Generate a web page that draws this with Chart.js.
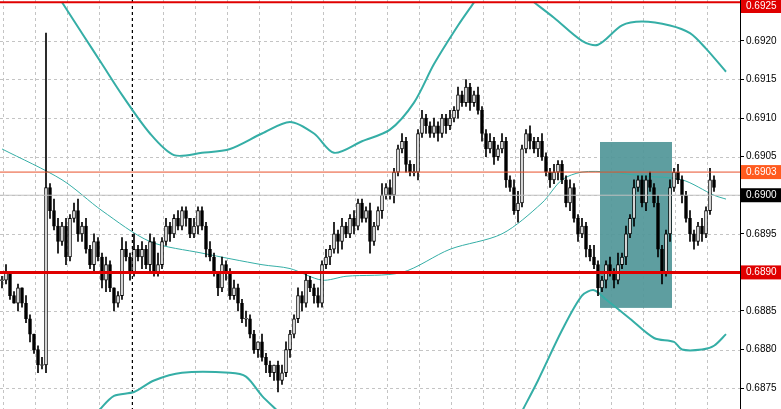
<!DOCTYPE html>
<html><head><meta charset="utf-8">
<script src="https://cdn.jsdelivr.net/npm/chart.js@4/dist/chart.umd.min.js"></script>
<style>body{margin:0;background:#fff}#wrap{width:781px;height:409px}</style>
</head><body><div id="wrap"><canvas id="c" width="781" height="409"></canvas></div>
<script>
/* ---- data ---- */
const OPEN0 = 0.6889;
const CLOSES = [
 0.6889,0.6890,0.6887,0.6886,0.6888,0.6886,0.6884,0.6882,0.6880,0.6878,0.6878,
 0.6901,
 0.6898,0.6896,0.6894,0.6896,0.6892,0.6897,0.6898,0.6895,0.6896,0.6893,0.6891,0.6894,0.6892,
 0.6889,0.6891,0.6888,0.6886,0.6887,0.6893,
 0.6892,0.6890,0.6893,0.6892,0.6893,0.6891,0.6894,0.6890,0.6891,0.6894,
 0.6896,0.6895,0.6897,0.6896,0.6898,0.6897,0.6895,0.6896,0.6898,0.6896,
 0.6893,0.6892,0.6890,0.6888,0.6891,0.6890,0.6887,0.6888,0.6886,0.6884,
 0.6884,0.6882,0.6880,0.6881,0.6879,0.6878,0.6877,0.6878,0.6876,0.6877,
 0.6880,0.6882,0.6884,0.6887,0.6886,0.6889,0.6888,0.6887,0.6886,0.6891,
 0.6892,0.6893,0.6895,0.6894,0.6896,0.6895,0.6897,0.6896,0.6899,0.6897,
 0.6898,0.6894,0.6896,0.6898,0.6900,0.6901,0.6900,0.6903,0.6906,0.6907,
 0.6904,0.6903,0.6903,0.6908,0.6910,0.6909,0.6908,0.6909,0.6908,0.6910,
 0.6909,0.6910,0.6911,0.6913,0.6912,0.6914,0.6912,0.6913,0.6911,0.6908,
 0.6906,0.6907,0.6905,0.6906,0.6907,0.6902,0.6901,0.6898,0.6899,0.6906,
 0.6908,0.6907,0.6906,0.6907,0.6905,0.6903,0.6902,0.6903,0.6904,0.6902,
 0.6899,0.6901,0.6897,0.6895,0.6896,0.6893,0.6892,0.6891,0.6888,0.6889,
 0.6891,0.6890,0.6889,0.6891,0.6892,0.6895,0.6897,0.6901,0.6902,0.6899,
 0.6902,0.6901,0.6899,0.6893,0.6890,0.6895,0.6901,0.6903,0.6902,0.6900,
 0.6897,0.6895,0.6894,0.6896,0.6895,0.6898,0.6902,0.6901
];
// wick lengths beyond the body, in units of 0.00005
const WICK_UP = [
 1,2,0,1,1,0,2,1,0,1,2, 40,
 1,3,2,1,2,1,2,3,1,2,1,2,1, 1,2,1,0,1,3,
 2,1,4,1,2,1,2,1,3,1, 2,1,1,2,1,1,0,2,1,1,
 1,2,1,0,2,1,1,2,1,1, 2,1,1,0,2,1,1,0,1,2,
 2,1,1,2,1,2,1,1,2,1, 2,1,3,1,2,1,1,2,1,1,
 1,2,1,1,3,1,2,1,1,2, 1,1,2,1,2,1,1,2,1,1,
 1,2,1,2,1,2,1,1,2,1, 1,2,1,1,2,1,1,2,3,1,
 1,2,1,1,2,1,1,2,1,1, 1,2,1,1,2,1,1,3,1,1,
 1,2,1,3,1,2,1,2,1,1, 1,2,1,2,1,1,2,1,2,1,
 1,2,1,1,2,1,3,1
];
const WICK_DN = [
 2,1,1,0,2,1,1,2,1,2,1, 2,
 2,1,3,1,2,1,1,2,2,1,1,2,1, 2,3,1,2,1,1,
 1,2,1,1,3,1,2,1,1,1, 1,2,1,1,1,2,1,1,2,1,
 2,1,1,2,1,2,1,1,2,1, 2,1,1,2,1,2,1,2,3,1,
 1,2,1,1,2,1,1,2,1,1, 1,2,1,3,2,1,1,2,1,1,
 1,3,1,1,2,1,1,2,1,1, 2,1,1,2,1,2,1,1,2,1,
 2,1,1,2,1,1,2,1,1,2, 2,1,2,1,1,2,1,1,3,1,
 1,2,1,2,1,1,2,1,2,1, 1,2,1,2,1,2,1,1,2,1,
 2,1,2,1,1,2,1,2,1,1, 2,1,1,2,3,1,2,1,1,2,
 1,2,2,1,2,1,1,1
];
const UPPER_A_X = [15,20,25,30,37,43,50,57,65,72,78,83,90,97,103,108,114,118];
const UPPER_A_Y = [0.6925,0.6921,0.6917,0.6913,0.6908,0.69052,0.69055,0.6906,0.6908,0.69095,0.6908,0.69055,0.6907,0.69085,0.6912,0.6917,0.6922,0.6925];
const UPPER_B_X = [133,138,145,149,155,160,167,172,176,181];
const UPPER_B_Y = [0.6925,0.6923,0.6920,0.69195,0.6922,0.69225,0.6922,0.6921,0.6919,0.6916];
const LOWER_A_X = [24,28,33,38,45,57,61,65,69];
const LOWER_A_Y = [0.6872,0.6874,0.68745,0.6876,0.6877,0.6877,0.68765,0.6874,0.6872];
const LOWER_B_X = [130,134,140,145,148,151,157,163,168,170,175,178,181];
const LOWER_B_Y = [0.6872,0.6876,0.68825,0.6887,0.68877,0.68865,0.6884,0.68815,0.6881,0.6880,0.6880,0.68805,0.6882];
const MID_X = [0,15,25,37,50,65,72,80,86,100,112,125,135,140,145,152,160,170,178,181];
const MID_Y = [0.6906,0.6902,0.6898,0.6894,0.68925,0.6891,0.68905,0.6889,0.68895,0.6890,0.6893,0.6895,0.6899,0.6902,0.6903,0.6903,0.69025,0.6902,0.6900,0.68995];
const Y_TICKS = [0.6875,0.6880,0.6885,0.6890,0.6895,0.6900,0.6905,0.6910,0.6915,0.6920];
const LEVELS = [
  { v: 0.6925, color: '#e00000', width: 2, label: '0.6925', box: '#e00000' },
  { v: 0.6903, color: '#e8502a', width: 1, label: '0.6903', box: '#ff5a1e' },
  { v: 0.6900, color: '#c0c0c0', width: 1, label: '0.6900', box: '#000000' },
  { v: 0.6890, color: '#e00000', width: 3, label: '0.6890', box: '#e00000' },
];
const ZONE = { x0: 149.5, x1: 167.5, top: 0.69069, bottom: 0.68854 };
const CURSOR_X = 32.5;

const TEAL = '#35aea6';
const GRID = '#c4c4c4';
const FONT = '10px "Liberation Sans"';
const pts = (xs, ys) => xs.map((x, i) => ({ x, y: ys[i] }));

/* ---- candles ---- */
const bodies = [], wicks = [], bodyFill = [];
CLOSES.forEach((c, i) => {
  const o = i === 0 ? OPEN0 : CLOSES[i - 1];
  const hi = Math.max(o, c) + WICK_UP[i] * 0.00005;
  const lo = Math.min(o, c) - WICK_DN[i] * 0.00005;
  wicks.push({ x: i, y: [lo, hi] });
  bodies.push({ x: i, y: o === c ? [o - 0.000006, o + 0.000006] : [o, c] });
  bodyFill.push(c >= o ? '#ffffff' : '#000000');
});

const overlay = {
  id: 'overlay',
  beforeDatasetsDraw(chart) {
    const { ctx, chartArea, scales: { x, y } } = chart;
    ctx.save();
    // dashed grid
    ctx.strokeStyle = GRID; ctx.lineWidth = 1; ctx.setLineDash([3, 3]);
    x.ticks.forEach(t => {
      const px = Math.round(x.getPixelForValue(t.value)) + 0.5;
      ctx.beginPath(); ctx.moveTo(px, chartArea.top); ctx.lineTo(px, chartArea.bottom); ctx.stroke();
    });
    y.ticks.forEach(t => {
      const py = Math.round(y.getPixelForValue(t.value)) + 0.5;
      ctx.beginPath(); ctx.moveTo(chartArea.left, py); ctx.lineTo(chartArea.right, py); ctx.stroke();
    });
    ctx.setLineDash([]);
    ctx.fillStyle = 'rgba(80,150,152,0.92)';
    const px0 = x.getPixelForValue(ZONE.x0), px1 = x.getPixelForValue(ZONE.x1);
    const py0 = y.getPixelForValue(ZONE.top), py1 = y.getPixelForValue(ZONE.bottom);
    ctx.fillRect(px0, py0, px1 - px0, py1 - py0);
    const cx = Math.round(x.getPixelForValue(CURSOR_X)) + 0.5;
    ctx.strokeStyle = '#000'; ctx.setLineDash([3, 3]);
    ctx.beginPath(); ctx.moveTo(cx, 0); ctx.lineTo(cx, chartArea.bottom); ctx.stroke();
    ctx.restore();
  },
  afterDatasetsDraw(chart) {
    const { ctx, chartArea, scales: { y } } = chart;
    ctx.save();
    LEVELS.forEach(l => {
      const py = y.getPixelForValue(l.v);
      ctx.strokeStyle = l.color; ctx.lineWidth = l.width;
      ctx.beginPath(); ctx.moveTo(chartArea.left, py); ctx.lineTo(chartArea.right, py); ctx.stroke();
    });
    ctx.restore();
  },
  afterDraw(chart) {
    const { ctx, chartArea, scales: { y } } = chart;
    ctx.save();
    ctx.font = FONT; ctx.textBaseline = 'middle';
    LEVELS.forEach(l => {
      const py = Math.max(y.getPixelForValue(l.v), 6);
      ctx.fillStyle = l.box;
      ctx.fillRect(chartArea.right + 1, py - 7, 40, 14);
      ctx.fillStyle = '#fff';
      ctx.fillText(l.label, chartArea.right + 6, py);
    });
    ctx.restore();
  }
};

new Chart(document.getElementById('c'), {
  data: {
    datasets: [
      { type: 'line', data: pts(MID_X, MID_Y), borderColor: TEAL, borderWidth: 1, pointRadius: 0, tension: 0.3, order: 3 },
      { type: 'line', data: pts(UPPER_A_X, UPPER_A_Y), borderColor: TEAL, borderWidth: 2, pointRadius: 0, tension: 0.3, order: 3 },
      { type: 'line', data: pts(UPPER_B_X, UPPER_B_Y), borderColor: TEAL, borderWidth: 2, pointRadius: 0, tension: 0.3, order: 3 },
      { type: 'line', data: pts(LOWER_A_X, LOWER_A_Y), borderColor: TEAL, borderWidth: 2, pointRadius: 0, tension: 0.3, order: 3 },
      { type: 'line', data: pts(LOWER_B_X, LOWER_B_Y), borderColor: TEAL, borderWidth: 2, pointRadius: 0, tension: 0.3, order: 3 },
      { type: 'bar', data: wicks, backgroundColor: '#000', barThickness: 1, grouped: false, order: 2 },
      { type: 'bar', data: bodies, backgroundColor: bodyFill, borderColor: '#000', borderWidth: 1, borderSkipped: false, barThickness: 3, grouped: false, order: 1 },
    ]
  },
  options: {
    responsive: false, animation: false,
    layout: { padding: 0 },
    plugins: { legend: { display: false }, tooltip: { enabled: false } },
    scales: {
      x: {
        type: 'linear', min: -0.5, max: 184.5, offset: false,
        afterFit: s => { s.height = 0; s.paddingLeft = 0; s.paddingRight = 0; },
        afterBuildTicks: s => { const t = []; for (let v = 0.25; v < 184; v += 8) t.push({ value: v }); s.ticks = t; },
        ticks: { display: false },
        grid: { display: false },
        border: { display: false }
      },
      y: {
        position: 'right', min: 0.68723, max: 0.69253,
        afterFit: s => { s.width = 41; s.paddingTop = 0; s.paddingBottom = 0; },
        afterBuildTicks: s => { s.ticks = Y_TICKS.map(v => ({ value: v })); },
        ticks: { color: '#000', font: { family: 'Liberation Sans', size: 10 }, padding: 2, callback: v => v.toFixed(4) },
        grid: { drawOnChartArea: false, drawTicks: true, tickLength: 4, tickColor: '#000' },
        border: { color: '#000' }
      }
    }
  },
  plugins: [overlay]
});
</script></body></html>
